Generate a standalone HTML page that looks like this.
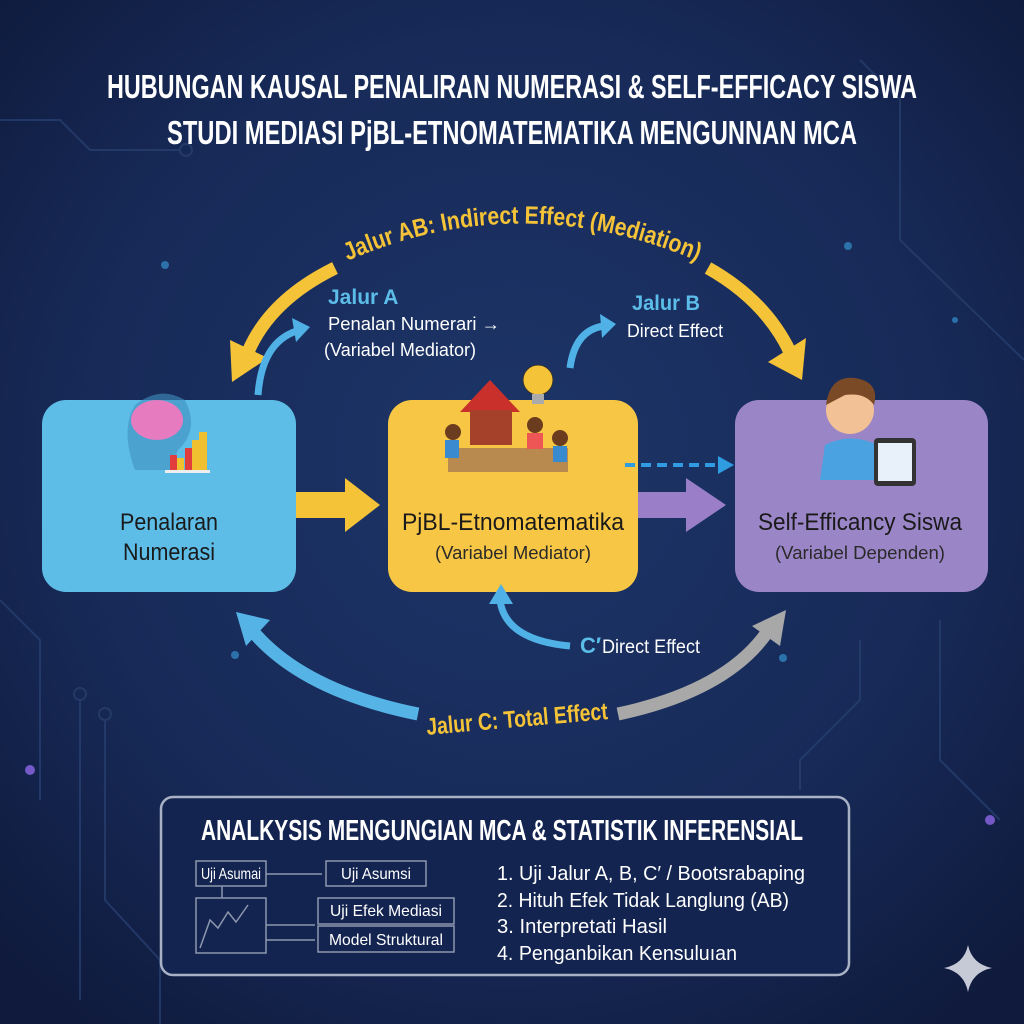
<!DOCTYPE html>
<html><head><meta charset="utf-8"><style>
html,body{margin:0;padding:0;width:1024px;height:1024px;overflow:hidden;background:#15224d}
svg{display:block}
text{font-family:"Liberation Sans Narrow","Liberation Sans",sans-serif}
</style></head><body>
<svg width="1024" height="1024" viewBox="0 0 1024 1024" xmlns="http://www.w3.org/2000/svg">
<defs>
<radialGradient id="bg" cx="50%" cy="45%" r="70%">
<stop offset="0" stop-color="#1d3568"/><stop offset="0.6" stop-color="#172a58"/><stop offset="1" stop-color="#0f1a3c"/>
</radialGradient>
<path id="arcTop" d="M345,262 Q520,185 700,262"/>
</defs>
<rect width="1024" height="1024" fill="url(#bg)"/>
<g stroke="#2a4272" stroke-width="2" fill="none" opacity="0.7">
<path d="M0,120 L60,120 L90,150 L180,150"/><circle cx="186" cy="150" r="6"/>
<path d="M860,60 L900,100 L900,240 L1024,360"/>
<path d="M80,700 L80,1000"/><circle cx="80" cy="694" r="6"/>
<path d="M105,720 L105,900 L160,960 L160,1024"/><circle cx="105" cy="714" r="6"/>
<path d="M940,620 L940,760 L1000,820"/>
<path d="M0,600 L40,640 L40,800"/>
<path d="M860,640 L860,700 L800,760 L800,790"/>
</g>
<g fill="#3aa0e0" opacity="0.6"><circle cx="165" cy="265" r="4"/><circle cx="848" cy="246" r="4"/><circle cx="235" cy="655" r="4"/><circle cx="783" cy="658" r="4"/><circle cx="955" cy="320" r="3"/></g>
<g fill="#a070ff" opacity="0.7"><circle cx="30" cy="770" r="5"/><circle cx="990" cy="820" r="5"/></g>

<text x="512" y="98" fill="#fff" font-size="33" font-weight="bold" text-anchor="middle" textLength="810" lengthAdjust="spacingAndGlyphs">HUBUNGAN KAUSAL PENALIRAN NUMERASI &amp; SELF-EFFICACY SISWA</text>
<text x="512" y="144" fill="#fff" font-size="33" font-weight="bold" text-anchor="middle" textLength="690" lengthAdjust="spacingAndGlyphs">STUDI MEDIASI PjBL-ETNOMATEMATIKA MENGUNNAN MCA</text>

<g fill="none" stroke="#f5c338" stroke-width="13">
<path d="M335,268 Q270,300 248,352"/>
<path d="M708,268 Q765,300 790,352"/>
</g>
<polygon points="232,382 230,340 268,358" fill="#f5c338"/>
<polygon points="802,380 768,362 806,338" fill="#f5c338"/>
<text fill="#f5c338" font-size="25" font-weight="bold"><textPath href="#arcTop" startOffset="50%" text-anchor="middle" textLength="360" lengthAdjust="spacingAndGlyphs">Jalur AB: Indirect Effect (Mediation)</textPath></text>

<text x="328" y="304" fill="#5cbde9" font-size="21" font-weight="bold">Jalur A</text>
<text x="328" y="330" fill="#fff" font-size="18" textLength="172" lengthAdjust="spacingAndGlyphs">Penalan Numerari →</text>
<text x="324" y="356" fill="#fff" font-size="18" textLength="152" lengthAdjust="spacingAndGlyphs">(Variabel Mediator)</text>
<path d="M258,395 Q262,340 300,330" fill="none" stroke="#4fb1e6" stroke-width="7"/>
<polygon points="310,327 292,318 296,342" fill="#4fb1e6"/>
<text x="632" y="310" fill="#5cbde9" font-size="21" font-weight="bold" textLength="68" lengthAdjust="spacingAndGlyphs">Jalur B</text>
<text x="627" y="337" fill="#fff" font-size="18" textLength="96" lengthAdjust="spacingAndGlyphs">Direct Effect</text>
<path d="M570,368 Q575,330 604,326" fill="none" stroke="#4fb1e6" stroke-width="7"/>
<polygon points="616,324 600,314 602,338" fill="#4fb1e6"/>

<rect x="42" y="400" width="254" height="192" rx="24" fill="#5dbde7"/>
<rect x="388" y="400" width="250" height="192" rx="24" fill="#f7c645"/>
<rect x="735" y="400" width="253" height="192" rx="24" fill="#9a85c7"/>

<rect x="296" y="492" width="55" height="26" fill="#f5c338"/>
<polygon points="345,478 380,505 345,532" fill="#f5c338"/>
<rect x="638" y="492" width="52" height="26" fill="#9b7ec8"/>
<polygon points="686,478 726,505 686,532" fill="#9b7ec8"/>
<line x1="625" y1="465" x2="720" y2="465" stroke="#2f9be0" stroke-width="4" stroke-dasharray="10,6"/>
<polygon points="734,465 718,456 718,474" fill="#2f9be0"/>

<text x="169" y="530" fill="#1a1a1a" font-size="24" text-anchor="middle" textLength="98" lengthAdjust="spacingAndGlyphs">Penalaran</text>
<text x="169" y="560" fill="#1a1a1a" font-size="24" text-anchor="middle" textLength="92" lengthAdjust="spacingAndGlyphs">Numerasi</text>
<text x="513" y="530" fill="#1a1a1a" font-size="24" text-anchor="middle" textLength="222" lengthAdjust="spacingAndGlyphs">PjBL-Etnomatematika</text>
<text x="513" y="559" fill="#2a2a2a" font-size="18" text-anchor="middle" textLength="156" lengthAdjust="spacingAndGlyphs">(Variabel Mediator)</text>
<text x="860" y="530" fill="#1a1a1a" font-size="24" text-anchor="middle" textLength="204" lengthAdjust="spacingAndGlyphs">Self-Efficancy Siswa</text>
<text x="860" y="559" fill="#2a2a2a" font-size="18" text-anchor="middle" textLength="170" lengthAdjust="spacingAndGlyphs">(Variabel Dependen)</text>

<path d="M135,470 Q120,430 135,405 Q160,385 185,400 Q200,430 178,450 L170,470 Z" fill="#3f8fc0" opacity="0.6"/>
<ellipse cx="157" cy="420" rx="26" ry="20" fill="#e77bbf"/>
<g fill="#e23d3d"><rect x="170" y="455" width="7" height="15"/><rect x="185" y="448" width="7" height="22"/></g>
<rect x="177" y="458" width="7" height="12" fill="#f0c030"/>
<rect x="192" y="440" width="7" height="30" fill="#f0c030"/>
<rect x="199" y="432" width="8" height="38" fill="#f0c030"/>
<rect x="165" y="470" width="45" height="3" fill="#eee"/>
<polygon points="460,412 490,380 520,412" fill="#c9302c"/>
<rect x="470" y="410" width="42" height="35" fill="#a5412a"/>
<rect x="448" y="448" width="120" height="24" fill="#b98a4f"/>
<circle cx="453" cy="432" r="8" fill="#6b3c1e"/><rect x="445" y="440" width="14" height="18" fill="#3a8ad0"/>
<circle cx="535" cy="425" r="8" fill="#6b3c1e"/><rect x="527" y="433" width="16" height="16" fill="#e55"/>
<circle cx="560" cy="438" r="8" fill="#6b3c1e"/><rect x="553" y="446" width="14" height="16" fill="#3a8ad0"/>
<circle cx="538" cy="380" r="15" fill="#f5c338" stroke="#333" stroke-width="1"/>
<rect x="532" y="394" width="12" height="10" fill="#aaa"/>
<circle cx="850" cy="410" r="24" fill="#f2c196"/>
<path d="M826,405 Q830,375 855,378 Q880,382 874,405 Q865,392 845,395 Z" fill="#7a4a26"/>
<path d="M820,480 L825,445 Q850,432 878,445 L880,480 Z" fill="#4aa3e0"/>
<rect x="874" y="438" width="42" height="48" rx="4" fill="#333"/>
<rect x="878" y="443" width="34" height="38" fill="#e8f0fa"/>

<path d="M570,646 Q505,640 500,600" fill="none" stroke="#4fb1e6" stroke-width="7"/>
<polygon points="501,584 489,604 513,604" fill="#4fb1e6"/>
<text x="580" y="653" fill="#5cbde9" font-size="22" font-weight="bold">C′</text>
<text x="602" y="653" fill="#fff" font-size="19" textLength="98" lengthAdjust="spacingAndGlyphs">Direct Effect</text>

<path d="M418,714 Q300,690 250,628" fill="none" stroke="#55b3e6" stroke-width="13"/>
<polygon points="236,612 270,620 246,646" fill="#55b3e6"/>
<path d="M618,714 Q730,690 770,628" fill="none" stroke="#a8a8a8" stroke-width="13"/>
<polygon points="786,610 780,646 752,626" fill="#a8a8a8"/>
<text x="517" y="727" fill="#f5c338" font-size="24" font-weight="bold" text-anchor="middle" transform="rotate(-5 517 720)" textLength="182" lengthAdjust="spacingAndGlyphs">Jalur C: Total Effect</text>

<rect x="161" y="797" width="688" height="178" rx="12" fill="#142451" stroke="#a9b2c4" stroke-width="2.5"/>
<text x="502" y="840" fill="#fff" font-size="29" font-weight="bold" text-anchor="middle" textLength="602" lengthAdjust="spacingAndGlyphs">ANALKYSIS MENGUNGIAN MCA &amp; STATISTIK INFERENSIAL</text>
<g fill="none" stroke="#8d97ad" stroke-width="1.5">
<rect x="196" y="861" width="70" height="25"/>
<rect x="326" y="861" width="100" height="25"/>
<rect x="196" y="898" width="70" height="55"/>
<rect x="318" y="898" width="136" height="26"/>
<rect x="318" y="926" width="136" height="26"/>
<line x1="266" y1="874" x2="322" y2="874"/><line x1="222" y1="886" x2="222" y2="898"/>
<line x1="266" y1="925" x2="315" y2="925"/><line x1="266" y1="940" x2="315" y2="940"/>
<polyline points="200,948 210,920 218,928 228,912 236,922 248,905"/>
</g>
<g fill="#fff" font-size="16">
<text x="231" y="879" text-anchor="middle" textLength="60" lengthAdjust="spacingAndGlyphs">Uji Asumai</text>
<text x="376" y="879" text-anchor="middle" textLength="70" lengthAdjust="spacingAndGlyphs">Uji Asumsi</text>
<text x="386" y="916" text-anchor="middle" textLength="112" lengthAdjust="spacingAndGlyphs">Uji Efek Mediasi</text>
<text x="386" y="945" text-anchor="middle" textLength="114" lengthAdjust="spacingAndGlyphs">Model Struktural</text>
</g>
<g fill="#fff" font-size="20">
<text x="497" y="880" textLength="308" lengthAdjust="spacingAndGlyphs">1. Uji Jalur A, B, C′ / Bootsrabaping</text>
<text x="497" y="907" textLength="292" lengthAdjust="spacingAndGlyphs">2. Hituh Efek Tidak Langlung (AB)</text>
<text x="497" y="933" textLength="170" lengthAdjust="spacingAndGlyphs">3. Interpretati Hasil</text>
<text x="497" y="960" textLength="240" lengthAdjust="spacingAndGlyphs">4. Penganbikan Kensuluıan</text>
</g>
<path d="M968,945 Q972,964 992,968 Q972,972 968,992 Q964,972 944,968 Q964,964 968,945 Z" fill="#c5cad6"/>
</svg>
</body></html>
